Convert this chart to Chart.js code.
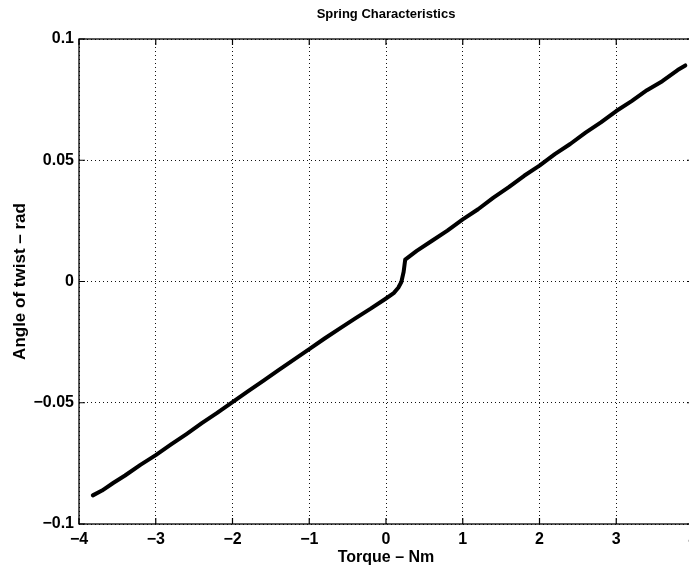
<!DOCTYPE html>
<html>
<head>
<meta charset="utf-8">
<title>Spring Characteristics</title>
<script src="https://cdn.jsdelivr.net/npm/chart.js@4.4.1/dist/chart.umd.min.js"></script>
<style>
  html, body { margin: 0; padding: 0; background: #fff; overflow: hidden; }
  #chart { display: block; }
</style>
</head>
<body>
<canvas id="chart" width="720" height="567"></canvas>
<script>
// torque (Nm) vs angle of twist (rad)
const torque = [
  -3.82, -3.70, -3.55, -3.40, -3.20, -3.00, -2.80, -2.60, -2.40, -2.20,
  -2.00, -1.80, -1.60, -1.40, -1.20, -1.00, -0.80, -0.60, -0.40, -0.20,
  0.00, 0.10, 0.16, 0.20, 0.23, 0.25, 0.40, 0.60, 0.80, 1.00,
  1.20, 1.40, 1.60, 1.80, 2.00, 2.20, 2.40, 2.60, 2.80, 3.00,
  3.20, 3.40, 3.60, 3.80, 3.90
];
const angle = [
  -0.0882, -0.0862, -0.0830, -0.0800, -0.0756, -0.0716, -0.0672, -0.0629, -0.0584, -0.0542,
  -0.0497, -0.0453, -0.0410, -0.0365, -0.0322, -0.0279, -0.0235, -0.0193, -0.0152, -0.0112,
  -0.0070, -0.0048, -0.0026, -0.0002, 0.0040, 0.0090, 0.0126, 0.0168, 0.0210, 0.0256,
  0.0298, 0.0346, 0.0389, 0.0436, 0.0478, 0.0525, 0.0567, 0.0614, 0.0656, 0.0703,
  0.0744, 0.0789, 0.0826, 0.0872, 0.0891
];
const xTickValues = [-4, -3, -2, -1, 0, 1, 2, 3, 4];
const yTickValues = [-0.1, -0.05, 0, 0.05, 0.1];

const FONT = "'Liberation Sans', Arial, Helvetica, sans-serif";
const minus = (s) => s.replace('-', '\u2212');

// MATLAB-style box: full frame plus short inward ticks on all sides
const boxPlugin = {
  id: 'box',
  afterDraw(chart) {
    const { ctx, chartArea: a, scales } = chart;
    ctx.save();
    ctx.strokeStyle = '#000';
    ctx.lineWidth = 1.3;
    ctx.strokeRect(a.left, a.top, a.right - a.left, a.bottom - a.top);
    ctx.lineWidth = 1.2;
    ctx.beginPath();
    xTickValues.forEach((v) => {
      const x = scales.x.getPixelForValue(v);
      ctx.moveTo(x, a.bottom); ctx.lineTo(x, a.bottom - 6);
      ctx.moveTo(x, a.top); ctx.lineTo(x, a.top + 6);
    });
    yTickValues.forEach((v) => {
      const y = scales.y.getPixelForValue(v);
      ctx.moveTo(a.left, y); ctx.lineTo(a.left + 6, y);
      ctx.moveTo(a.right, y); ctx.lineTo(a.right - 6, y);
    });
    ctx.stroke();
    ctx.restore();
  }
};

new Chart(document.getElementById('chart').getContext('2d'), {
  type: 'line',
  data: {
    datasets: [{
      label: 'Angle of twist',
      data: torque.map((t, i) => ({ x: t, y: angle[i] })),
      borderColor: '#000',
      backgroundColor: '#000',
      borderWidth: 4,
      pointRadius: 0,
      tension: 0,
      borderJoinStyle: 'round',
      borderCapStyle: 'round',
      fill: false
    }]
  },
  options: {
    responsive: false,
    animation: false,
    layout: { padding: { left: 0, right: 27, top: 0, bottom: 0 } },
    plugins: {
      legend: { display: false },
      tooltip: { enabled: false },
      title: {
        display: true,
        text: 'Spring Characteristics',
        color: '#000',
        fullSize: false,
        font: { family: FONT, size: 13, weight: 'bold' },
        padding: { top: 7, bottom: 16.4 }
      }
    },
    scales: {
      x: {
        type: 'linear',
        min: -4,
        max: 4,
        afterFit: (s) => { s.height = 43; },
        afterBuildTicks: (s) => { s.ticks = xTickValues.map((v) => ({ value: v })); },
        ticks: {
          color: '#000',
          padding: 6,
          maxRotation: 0,
          font: { family: FONT, size: 16, weight: 'bold' },
          callback: (v) => minus(String(v))
        },
        grid: { color: '#111', lineWidth: 1, drawTicks: false },
        border: { display: false, dash: [1, 3] },
        title: {
          display: true,
          text: 'Torque \u2013 Nm',
          color: '#000',
          font: { family: FONT, size: 16, weight: 'bold' },
          padding: { top: 0, bottom: 0 }
        }
      },
      y: {
        type: 'linear',
        min: -0.1,
        max: 0.1,
        afterFit: (s) => { s.width = 79; },
        afterBuildTicks: (s) => { s.ticks = yTickValues.map((v) => ({ value: v })); },
        ticks: {
          color: '#000',
          padding: 5,
          font: { family: FONT, size: 16, weight: 'bold' },
          callback: (v) => minus(String(Number(v.toFixed(2))))
        },
        grid: { color: '#111', lineWidth: 1, drawTicks: false },
        border: { display: false, dash: [1, 3] },
        title: {
          display: true,
          text: 'Angle of twist \u2013 rad',
          color: '#000',
          font: { family: FONT, size: 17, weight: 'bold' },
          padding: { top: 10, bottom: 10 }
        }
      }
    }
  },
  plugins: [boxPlugin]
});
</script>
</body>
</html>
